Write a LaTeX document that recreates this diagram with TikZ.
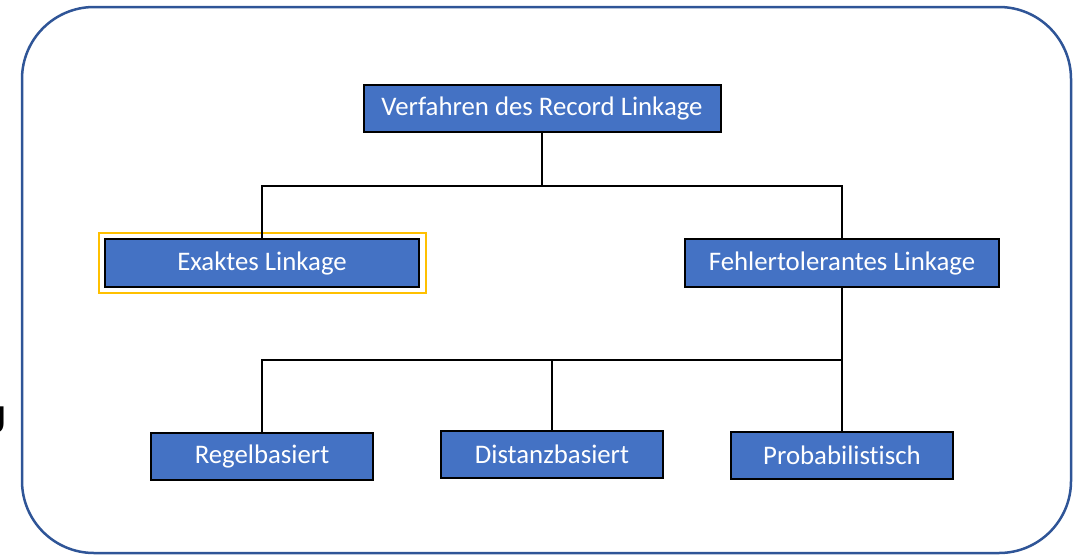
\documentclass[tikz,border=0pt]{standalone}
\usepackage{fontspec}
\setmainfont{Carlito}[Ligatures={NoCommon,NoRare,NoContextual}]
\usetikzlibrary{positioning}

\definecolor{boxblue}{RGB}{68,114,196}
\definecolor{framblue}{RGB}{47,85,151}
\definecolor{markyellow}{RGB}{255,192,0}

\begin{document}
\begin{tikzpicture}[x=1pt,y=-1pt,
	verfahren/.style={
		% The shape:
		rectangle,
		% The border:
		line width=2pt,
		draw=black,
		% The filling:
		fill=boxblue,
		% Font
		text=white,
		font=\fontsize{26.8}{30}\selectfont,
		inner sep=0pt,
		minimum height=47pt
		},
	connector/.style={line width=2pt, draw=black}]

	\useasboundingbox (0,0) rectangle (1086,557);
	% the frame round everything
	\draw[line width=2.5pt, draw=framblue, rounded corners=72pt] (22,7) rectangle (1071,553);
	\node (cut) [anchor=east, font=\fontsize{40}{44}\selectfont] at (10,420) {J};

	\node (record) [verfahren, minimum width=357pt] at (542,108) {Verfahren des Record Linkage};
	\node (exakt) [verfahren, minimum width=314pt, minimum height=48pt] at (262,263) {Exaktes Linkage};
	\node (fehler) [verfahren, minimum width=314pt, minimum height=48pt, right=264pt of exakt] {Fehlertolerantes Linkage};
	\node (regel) [verfahren, minimum width=222pt, below=144pt of exakt] {Regelbasiert};
	\node (distanz) [verfahren, minimum width=222pt, right=66pt of regel, yshift=2pt] {Distanzbasiert};
	\node (proba) [verfahren, minimum width=222pt, right=66pt of distanz, yshift=-1pt] {Probabilistisch};

	% yellow marking round Exaktes Linkage
	\draw[line width=2pt, draw=markyellow] ([xshift=-5pt,yshift=5pt]exakt.north west) rectangle ([xshift=6pt,yshift=-5pt]exakt.south east);

	\path (record.south) ++(0,53) coordinate (fork1);
	\path (fehler.south) ++(0,72) coordinate (fork2);

	\draw[connector] (record.south) -- (fork1) -| (exakt.north);
	\draw[connector] (fork1) -| (fehler.north);
	\draw[connector] (fehler.south) -- (fork2) -| (regel.north);
	\draw[connector] (fork2) -| (distanz.north);
	\draw[connector] (fork2) -- (fork2 |- proba.north);

\end{tikzpicture}
\end{document}
